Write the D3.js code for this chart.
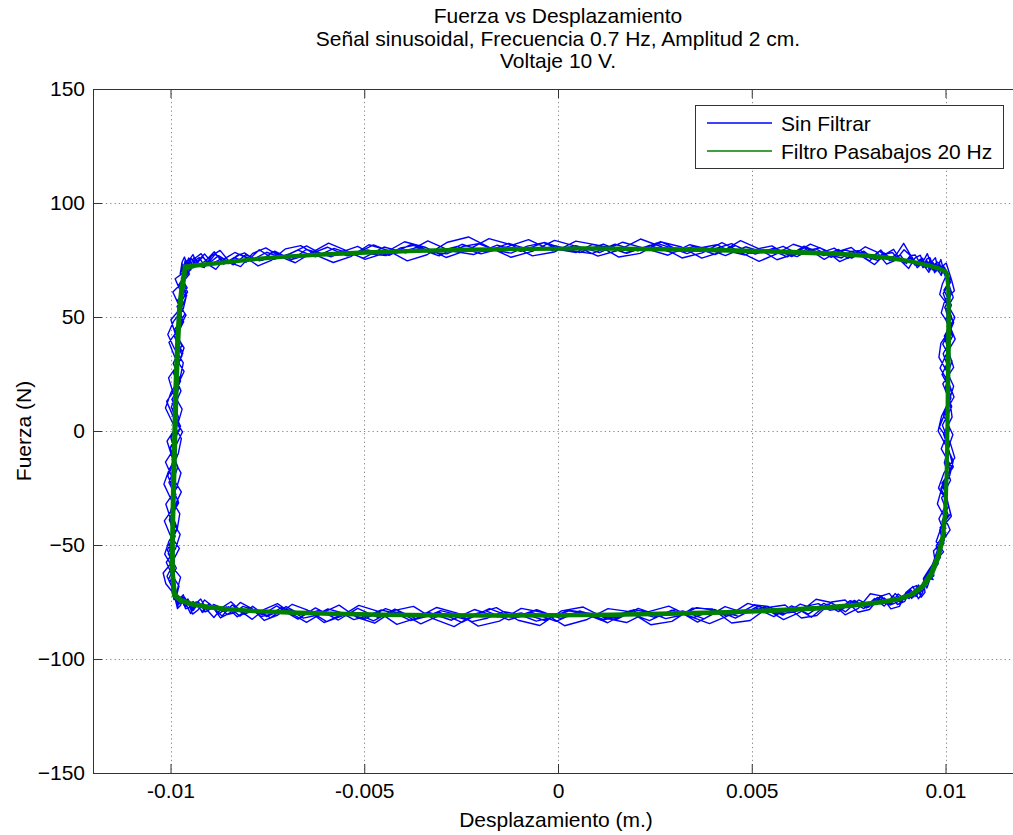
<!DOCTYPE html>
<html>
<head>
<meta charset="utf-8">
<script src="https://cdn.jsdelivr.net/npm/d3@7"></script>
<style>
  html, body { margin: 0; padding: 0; background: #ffffff; }
  svg { display: block; }
  text { font-family: "Liberation Sans", Arial, Helvetica, sans-serif; fill: #000; }
</style>
</head>
<body>
<svg id="chart" width="1013" height="835"></svg>
<script>
// ---- Títulos y etiquetas ----
const titulo = [
  "Fuerza vs Desplazamiento",
  "Señal sinusoidal, Frecuencia 0.7 Hz, Amplitud 2 cm.",
  "Voltaje 10 V."
];
const etiquetaX = "Desplazamiento (m.)";
const etiquetaY = "Fuerza (N)";
const leyenda = ["Sin Filtrar", "Filtro Pasabajos 20 Hz"];

// ---- Ejes ----
const limitesX = [-0.012, 0.012];
const limitesY = [-150, 150];
const ticksX = [-0.01, -0.005, 0, 0.005, 0.01];
const etiquetasTicksX = ["-0.01", "-0.005", "0", "0.005", "0.01"];
const ticksY = [-150, -100, -50, 0, 50, 100, 150];

// ---- Señal sin filtrar: [desplazamiento (m), fuerza (N)], seis ciclos ----
const sinFiltrarCiclo1 = [
  [-0.00968,70.5],[-0.00962,74.8],[-0.00955,71.9],[-0.00946,75.6],[-0.00934,73.1],[-0.00918,76.2],[-0.00899,73.8],[-0.00876,76.9],
  [-0.00850,74.2],[-0.00821,77.5],[-0.00788,75.1],[-0.00752,78.4],[-0.00713,76.0],[-0.00671,79.3],[-0.00626,76.4],[-0.00578,80.1],
  [-0.00528,77.2],[-0.00476,81.6],[-0.00421,77.9],[-0.00365,80.4],[-0.00307,76.8],[-0.00248,81.9],[-0.00188,78.6],[-0.00127,82.3],
  [-0.00066,79.1],[-0.00005,81.2],[0.00056,78.3],[0.00117,82.0],[0.00177,77.9],[0.00236,81.4],[0.00294,78.2],[0.00350,80.9],
  [0.00405,77.4],[0.00458,81.3],[0.00509,77.6],[0.00557,80.2],[0.00603,76.5],[0.00646,80.1],[0.00686,76.9],[0.00724,79.6],
  [0.00758,75.8],[0.00789,78.9],[0.00817,75.2],[0.00842,78.1],[0.00864,74.6],[0.00883,77.3],[0.00899,73.4],[0.00913,76.5],
  [0.00925,72.9],[0.00935,75.4],[0.00944,71.8],[0.00952,74.7],[0.00960,71.2],[0.00968,73.9],[0.00976,70.4],[0.00984,72.8],
  [0.00992,69.5],[0.00998,71.6],
  [0.01012,66.3],[0.00996,61.8],[0.01015,55.2],[0.01001,48.7],[0.01018,41.5],[0.00994,33.9],[0.01010,26.4],[0.00999,18.2],
  [0.01016,10.7],[0.00992,2.5],[0.01011,-5.8],[0.00997,-13.9],[0.01013,-21.6],[0.00990,-29.4],[0.01007,-36.8],[0.00985,-43.5],
  [0.00996,-49.2],[0.00978,-54.1],[0.00981,-58.3],[0.00962,-62.4],[0.00958,-65.9],
  [0.00952,-68.9],[0.00944,-66.2],[0.00935,-71.3],[0.00925,-68.8],[0.00913,-73.5],[0.00899,-70.6],[0.00883,-75.1],[0.00864,-72.4],
  [0.00842,-76.8],[0.00817,-73.5],[0.00789,-77.9],[0.00758,-74.8],[0.00724,-79.2],[0.00686,-75.6],[0.00646,-80.3],[0.00603,-76.7],
  [0.00557,-81.4],[0.00509,-77.5],[0.00458,-82.1],[0.00405,-78.3],[0.00350,-81.8],[0.00294,-78.6],[0.00236,-83.2],[0.00177,-79.4],
  [0.00117,-82.6],[0.00056,-78.9],[-0.00005,-83.5],[-0.00066,-79.7],[-0.00127,-82.8],[-0.00188,-78.8],[-0.00248,-83.9],[-0.00307,-79.5],
  [-0.00365,-82.4],[-0.00421,-78.1],[-0.00476,-83.3],[-0.00528,-79.4],[-0.00578,-81.9],[-0.00626,-77.6],[-0.00671,-82.5],[-0.00713,-78.3],
  [-0.00752,-81.4],[-0.00788,-76.9],[-0.00821,-81.2],[-0.00850,-77.1],[-0.00876,-80.3],[-0.00899,-75.8],[-0.00918,-79.6],[-0.00934,-74.9],
  [-0.00946,-78.2],[-0.00955,-73.7],[-0.00962,-76.8],[-0.00970,-72.6],[-0.00978,-75.1],[-0.00986,-70.8],
  [-0.01002,-66.4],[-0.00985,-60.1],[-0.01006,-53.8],[-0.00988,-46.2],[-0.01003,-38.9],[-0.00979,-31.5],[-0.00998,-23.7],[-0.00981,-15.8],
  [-0.01001,-7.4],[-0.00976,0.9],[-0.00995,9.2],[-0.00973,17.6],[-0.00992,25.3],[-0.00970,33.1],[-0.00988,40.7],[-0.00966,47.9],
  [-0.00983,54.6],[-0.00959,60.3],[-0.00975,65.2],[-0.00955,69.1]
];
const sinFiltrarCiclo2 = [
  [-0.00971,73.6],[-0.00966,70.9],[-0.00958,74.4],[-0.00950,72.0],[-0.00939,76.3],[-0.00925,72.7],[-0.00908,74.9],[-0.00887,78.6],
  [-0.00863,73.2],[-0.00836,76.1],[-0.00805,74.0],[-0.00771,79.5],[-0.00733,75.3],[-0.00692,77.8],[-0.00649,81.2],[-0.00602,76.9],
  [-0.00553,79.0],[-0.00502,75.8],[-0.00449,80.7],[-0.00393,78.1],[-0.00336,83.4],[-0.00278,79.0],[-0.00218,77.4],[-0.00157,81.5],
  [-0.00096,78.8],[-0.00035,82.7],[0.00026,79.3],[0.00087,77.8],[0.00147,81.9],[0.00206,79.0],[0.00265,83.1],[0.00322,78.5],
  [0.00378,80.6],[0.00432,76.9],[0.00484,80.8],[0.00534,78.2],[0.00581,81.0],[0.00625,77.3],[0.00666,79.9],[0.00705,76.2],
  [0.00741,79.4],[0.00774,77.8],[0.00804,74.6],[0.00830,78.9],[0.00854,75.3],[0.00874,77.6],[0.00892,82.3],[0.00907,77.9],
  [0.00920,74.1],[0.00931,72.2],[0.00941,75.8],[0.00950,71.5],[0.00958,74.3],[0.00966,70.7],[0.00974,73.5],[0.00982,69.8],
  [0.00990,72.4],[0.00997,68.9],
  [0.01009,64.1],[0.01020,58.6],[0.01001,52.9],[0.01013,45.3],[0.00993,38.1],[0.01017,30.6],[0.01000,22.9],[0.01014,14.5],
  [0.00995,6.8],[0.01019,-1.6],[0.01002,-9.7],[0.01011,-17.3],[0.00988,-25.1],[0.01008,-32.8],[0.00991,-39.7],[0.01000,-45.6],
  [0.00979,-50.8],[0.00987,-55.4],[0.00966,-59.7],[0.00970,-63.5],[0.00949,-66.8],
  [0.00941,-70.6],[0.00930,-67.5],[0.00918,-72.8],[0.00905,-70.1],[0.00889,-74.4],[0.00870,-71.3],[0.00849,-75.9],[0.00824,-73.0],
  [0.00796,-77.6],[0.00765,-74.3],[0.00731,-78.5],[0.00694,-76.0],[0.00654,-81.7],[0.00611,-77.2],[0.00566,-80.4],[0.00518,-76.9],
  [0.00467,-81.3],[0.00415,-79.0],[0.00360,-83.8],[0.00304,-78.2],[0.00247,-81.6],[0.00188,-78.7],[0.00128,-84.1],[0.00067,-79.5],
  [0.00006,-82.2],[-0.00055,-78.4],[-0.00116,-81.9],[-0.00177,-77.9],[-0.00237,-82.7],[-0.00296,-80.1],[-0.00354,-84.6],[-0.00410,-79.3],
  [-0.00465,-81.7],[-0.00517,-77.8],[-0.00567,-82.9],[-0.00615,-78.6],[-0.00660,-80.8],[-0.00702,-77.0],[-0.00742,-81.9],[-0.00778,-78.2],
  [-0.00811,-80.4],[-0.00841,-76.3],[-0.00867,-81.1],[-0.00890,-77.4],[-0.00910,-79.3],[-0.00927,-75.2],[-0.00941,-78.7],[-0.00952,-74.6],
  [-0.00961,-77.3],[-0.00969,-73.1],[-0.00977,-75.8],[-0.00985,-71.9],[-0.00991,-74.0],
  [-0.00997,-68.2],[-0.01009,-63.7],[-0.00990,-57.4],[-0.01004,-50.1],[-0.00982,-42.8],[-0.01000,-35.2],[-0.00986,-27.9],[-0.01007,-19.6],
  [-0.00983,-11.3],[-0.00999,-3.1],[-0.00978,5.4],[-0.00996,13.8],[-0.00974,21.9],[-0.00993,29.7],[-0.00971,37.5],[-0.00989,44.6],
  [-0.00963,51.3],[-0.00981,57.5],[-0.00957,62.8],[-0.00972,67.1],[-0.00950,70.4]
];
const sinFiltrarCiclo3 = [
  [-0.00961,72.9],[-0.00953,75.9],[-0.00944,72.1],[-0.00930,74.7],[-0.00912,77.6],[-0.00891,73.5],[-0.00866,75.8],[-0.00838,72.9],
  [-0.00806,77.3],[-0.00770,74.6],[-0.00731,78.9],[-0.00688,75.2],[-0.00643,77.4],[-0.00595,80.6],[-0.00544,76.8],[-0.00491,79.4],
  [-0.00436,77.0],[-0.00379,81.8],[-0.00320,78.3],[-0.00260,80.9],[-0.00199,77.7],[-0.00138,80.4],[-0.00076,83.9],[-0.00015,79.1],
  [0.00046,81.3],[0.00107,78.2],[0.00167,82.8],[0.00226,80.0],[0.00284,77.1],[0.00340,81.7],[0.00395,79.4],[0.00448,82.2],
  [0.00498,77.9],[0.00547,79.6],[0.00592,76.4],[0.00635,81.1],[0.00676,78.0],[0.00713,80.2],[0.00748,75.7],[0.00779,78.3],
  [0.00808,76.0],[0.00833,79.4],[0.00856,74.7],[0.00876,76.8],[0.00893,73.6],[0.00908,76.2],[0.00921,72.8],[0.00932,74.9],
  [0.00942,71.6],[0.00951,74.2],[0.00959,70.2],[0.00967,73.1],[0.00975,69.9],[0.00983,72.6],[0.00991,69.1],[0.00999,71.0],
  [0.01004,65.0],[0.01014,59.8],[0.00998,54.1],[0.01021,47.6],[0.01003,40.2],[0.01012,32.5],[0.00991,24.8],[0.01016,16.9],
  [0.00999,8.6],[0.01009,0.4],[0.00989,-7.8],[0.01015,-15.6],[0.00996,-23.4],[0.01005,-31.2],[0.00983,-38.5],[0.00998,-44.9],
  [0.00976,-50.3],[0.00984,-55.7],[0.00960,-60.4],[0.00964,-64.2],[0.00944,-67.5],
  [0.00936,-69.2],[0.00924,-72.6],[0.00911,-69.8],[0.00896,-73.9],[0.00878,-71.5],[0.00857,-76.3],[0.00833,-72.8],[0.00806,-76.6],
  [0.00776,-74.1],[0.00742,-79.3],[0.00706,-75.4],[0.00667,-78.1],[0.00625,-75.9],[0.00580,-80.8],[0.00533,-77.3],[0.00483,-79.9],
  [0.00431,-77.0],[0.00377,-82.4],[0.00322,-78.9],[0.00265,-81.2],[0.00207,-77.8],[0.00148,-82.9],[0.00088,-80.1],[0.00027,-78.6],
  [-0.00034,-83.1],[-0.00095,-79.8],[-0.00156,-81.5],[-0.00216,-78.3],[-0.00275,-83.0],[-0.00333,-79.6],[-0.00390,-81.2],[-0.00445,-77.9],
  [-0.00498,-82.4],[-0.00549,-79.7],[-0.00597,-83.6],[-0.00643,-78.8],[-0.00686,-80.9],[-0.00726,-76.7],[-0.00763,-80.6],[-0.00797,-77.8],
  [-0.00828,-81.5],[-0.00855,-77.1],[-0.00879,-79.4],[-0.00900,-75.6],[-0.00918,-79.1],[-0.00933,-76.2],[-0.00946,-77.9],[-0.00956,-73.8],
  [-0.00965,-76.5],[-0.00973,-72.7],[-0.00981,-74.9],[-0.00988,-71.3],
  [-0.01005,-65.1],[-0.00989,-58.8],[-0.01008,-52.3],[-0.00991,-45.6],[-0.01002,-38.2],[-0.00980,-30.7],[-0.01004,-22.6],[-0.00985,-14.3],
  [-0.00997,-6.2],[-0.00974,2.1],[-0.00998,10.4],[-0.00979,18.5],[-0.00990,26.4],[-0.00968,34.2],[-0.00991,41.8],[-0.00969,48.7],
  [-0.00980,55.1],[-0.00956,60.9],[-0.00971,65.8],[-0.00952,69.6],[-0.00965,72.3]
];
const sinFiltrarCiclo4 = [
  [-0.00975,68.9],[-0.00970,74.1],[-0.00964,76.3],[-0.00957,72.8],[-0.00948,70.6],[-0.00936,75.9],[-0.00921,77.8],[-0.00903,73.1],
  [-0.00883,70.9],[-0.00860,75.6],[-0.00834,78.3],[-0.00805,76.0],[-0.00774,72.4],[-0.00740,74.8],[-0.00703,79.9],[-0.00664,81.3],
  [-0.00623,77.0],[-0.00580,73.9],[-0.00535,76.5],[-0.00488,81.7],[-0.00439,79.2],[-0.00389,74.6],[-0.00338,77.3],[-0.00285,82.8],
  [-0.00231,85.1],[-0.00176,80.4],[-0.00121,76.2],[-0.00065,78.9],[-0.00009,83.6],[0.00047,81.0],[0.00103,76.7],[0.00158,79.4],
  [0.00213,84.2],[0.00267,80.8],[0.00320,75.9],[0.00372,78.1],[0.00423,82.6],[0.00472,78.3],[0.00519,74.4],[0.00564,77.7],
  [0.00607,81.9],[0.00648,79.6],[0.00687,75.3],[0.00723,78.8],[0.00757,80.5],[0.00788,76.1],[0.00817,73.0],[0.00843,77.4],
  [0.00866,79.7],[0.00887,74.2],[0.00905,71.3],[0.00921,75.8],[0.00935,77.1],[0.00947,72.0],[0.00957,69.6],[0.00966,74.5],
  [0.00974,76.0],[0.00982,70.3],[0.00989,68.2],[0.00996,72.9],[0.01002,73.6],
  [0.01016,66.0],[0.01023,61.5],[0.00998,57.2],[0.00989,51.8],[0.01011,46.1],[0.01025,40.3],[0.01003,34.0],[0.00986,27.6],
  [0.01008,21.2],[0.01022,14.9],[0.01000,8.3],[0.00984,1.7],[0.01012,-5.1],[0.01024,-11.8],[0.00996,-18.4],[0.00982,-25.0],
  [0.01006,-31.3],[0.01015,-37.4],[0.00987,-43.2],[0.00976,-48.5],[0.00995,-53.0],[0.00971,-57.6],[0.00954,-61.8],[0.00968,-65.2],
  [0.00950,-64.1],[0.00941,-70.9],[0.00930,-73.6],[0.00916,-68.2],[0.00900,-70.5],[0.00881,-76.9],[0.00859,-78.0],[0.00834,-72.3],
  [0.00806,-71.4],[0.00775,-77.8],[0.00741,-80.6],[0.00705,-75.2],[0.00666,-73.8],[0.00625,-79.4],[0.00582,-82.7],[0.00537,-78.0],
  [0.00490,-75.6],[0.00441,-80.9],[0.00391,-84.5],[0.00339,-81.2],[0.00286,-76.8],[0.00232,-79.3],[0.00177,-84.0],[0.00121,-82.1],
  [0.00065,-77.2],[0.00009,-78.9],[-0.00047,-85.3],[-0.00103,-83.0],[-0.00159,-77.5],[-0.00214,-80.2],[-0.00268,-85.8],[-0.00321,-82.4],
  [-0.00373,-76.9],[-0.00424,-78.8],[-0.00473,-84.3],[-0.00520,-81.7],[-0.00565,-76.4],[-0.00608,-79.8],[-0.00649,-83.9],[-0.00688,-80.0],
  [-0.00724,-75.7],[-0.00758,-78.2],[-0.00789,-82.6],[-0.00818,-79.1],[-0.00844,-74.9],[-0.00867,-77.5],[-0.00888,-81.8],[-0.00906,-78.4],
  [-0.00922,-73.7],[-0.00936,-75.9],[-0.00948,-80.1],[-0.00958,-76.6],[-0.00967,-71.8],[-0.00975,-73.4],[-0.00982,-77.2],[-0.00988,-72.1],
  [-0.01012,-67.0],[-0.01019,-62.3],[-0.00994,-57.1],[-0.00977,-51.5],[-0.01001,-45.6],[-0.01016,-39.4],[-0.00990,-33.1],[-0.00972,-26.7],
  [-0.00996,-20.2],[-0.01013,-13.6],[-0.00988,-7.0],[-0.00969,-0.4],[-0.00993,6.3],[-0.01010,13.0],[-0.00983,19.6],[-0.00965,26.1],
  [-0.00989,32.5],[-0.01004,38.9],[-0.00978,45.0],[-0.00960,50.8],[-0.00981,56.2],[-0.00994,61.0],[-0.00968,65.3],[-0.00951,68.8],
  [-0.00969,71.4]
];
const sinFiltrarCiclo5 = [
  [-0.00966,72.6],[-0.00960,69.8],[-0.00952,74.9],[-0.00942,77.4],[-0.00929,72.5],[-0.00913,71.7],[-0.00894,76.8],[-0.00872,79.2],
  [-0.00847,74.0],[-0.00819,72.1],[-0.00788,77.9],[-0.00754,80.3],[-0.00717,76.5],[-0.00678,73.8],[-0.00636,78.2],[-0.00592,82.4],
  [-0.00546,79.1],[-0.00498,75.3],[-0.00448,78.0],[-0.00396,83.0],[-0.00343,80.6],[-0.00289,76.1],[-0.00234,79.3],[-0.00178,84.4],
  [-0.00122,81.7],[-0.00066,76.8],[-0.00010,78.5],[0.00046,83.3],[0.00102,81.5],[0.00157,76.3],[0.00212,77.9],[0.00266,82.9],
  [0.00319,80.7],[0.00371,75.8],[0.00422,78.6],[0.00471,83.5],[0.00519,79.9],[0.00565,75.1],[0.00609,77.6],[0.00651,82.0],
  [0.00690,79.3],[0.00727,74.3],[0.00761,76.9],[0.00793,80.8],[0.00822,78.6],[0.00848,73.2],[0.00872,75.0],[0.00893,79.5],
  [0.00911,76.7],[0.00927,71.6],[0.00941,73.9],[0.00953,77.8],[0.00963,73.4],[0.00972,69.4],[0.00980,72.0],[0.00988,75.2],
  [0.00995,70.5],[0.01001,67.9],
  [0.00992,64.5],[0.00985,59.9],[0.01007,55.0],[0.01024,49.8],[0.01010,44.2],[0.00988,38.4],[0.00983,32.3],[0.01004,26.0],
  [0.01021,19.6],[0.01009,13.1],[0.00990,6.6],[0.00981,0.0],[0.01002,-6.6],[0.01020,-13.1],[0.01011,-19.5],[0.00989,-25.8],
  [0.00979,-32.0],[0.00998,-37.9],[0.01012,-43.4],[0.00992,-48.3],[0.00969,-52.6],[0.00973,-56.9],[0.00957,-60.9],[0.00943,-64.6],
  [0.00947,-70.8],[0.00937,-72.9],[0.00925,-67.8],[0.00911,-68.9],[0.00895,-74.7],[0.00876,-76.1],[0.00855,-71.2],[0.00831,-72.6],
  [0.00804,-78.3],[0.00774,-79.5],[0.00741,-74.1],[0.00706,-75.0],[0.00668,-80.9],[0.00628,-82.0],[0.00586,-76.3],[0.00542,-77.4],
  [0.00496,-83.1],[0.00448,-84.2],[0.00398,-78.0],[0.00347,-77.7],[0.00294,-83.5],[0.00240,-85.0],[0.00185,-79.2],[0.00129,-77.9],
  [0.00073,-82.8],[0.00017,-85.4],[-0.00039,-79.6],[-0.00095,-77.8],[-0.00151,-83.4],[-0.00206,-85.6],[-0.00260,-79.9],[-0.00313,-77.4],
  [-0.00365,-82.1],[-0.00416,-84.8],[-0.00466,-79.0],[-0.00514,-76.5],[-0.00560,-81.3],[-0.00604,-84.0],[-0.00646,-78.6],[-0.00686,-76.0],
  [-0.00723,-80.7],[-0.00758,-83.1],[-0.00790,-77.9],[-0.00820,-75.2],[-0.00847,-79.8],[-0.00871,-82.0],[-0.00893,-76.7],[-0.00912,-74.1],
  [-0.00929,-78.5],[-0.00943,-80.3],[-0.00955,-75.2],[-0.00965,-72.6],[-0.00974,-76.4],[-0.00982,-77.9],[-0.00989,-72.8],
  [-0.00981,-68.6],[-0.00974,-64.1],[-0.00997,-59.2],[-0.01015,-54.0],[-0.01004,-48.3],[-0.00982,-42.4],[-0.00976,-36.2],[-0.00999,-29.8],
  [-0.01017,-23.3],[-0.01003,-16.7],[-0.00980,-10.0],[-0.00972,-3.3],[-0.00994,3.4],[-0.01013,10.1],[-0.00999,16.8],[-0.00975,23.4],
  [-0.00967,29.9],[-0.00990,36.2],[-0.01007,42.3],[-0.00992,48.1],[-0.00967,53.6],[-0.00960,58.6],[-0.00979,63.0],[-0.00988,66.8],
  [-0.00962,70.0],[-0.00954,72.7]
];
const sinFiltrarCiclo6 = [
  [-0.00972,72.4],[-0.00967,70.1],[-0.00961,75.0],[-0.00954,73.6],[-0.00946,71.2],[-0.00937,74.8],[-0.00926,76.1],[-0.00914,72.9],[-0.00900,74.3],[-0.00885,77.5],
  [-0.00868,75.2],[-0.00850,73.4],[-0.00830,76.8],[-0.00809,78.1],[-0.00786,75.5],[-0.00762,74.9],[-0.00736,78.7],[-0.00709,77.0],[-0.00680,75.8],[-0.00650,79.6],
  [-0.00619,78.2],[-0.00586,76.4],[-0.00552,78.9],[-0.00517,81.0],[-0.00481,77.6],[-0.00444,76.9],[-0.00406,80.3],[-0.00367,81.5],[-0.00327,78.4],[-0.00287,77.7],
  [-0.00246,80.9],[-0.00205,82.2],[-0.00163,79.3],[-0.00121,78.0],[-0.00079,81.1],[-0.00037,82.6],[0.00005,79.5],[0.00047,78.3],[0.00089,81.8],[0.00131,80.6],
  [0.00172,78.1],[0.00213,79.9],[0.00254,82.4],[0.00294,80.2],[0.00333,77.8],[0.00372,80.5],[0.00410,81.7],[0.00447,78.6],[0.00483,77.2],[0.00518,80.0],
  [0.00552,81.2],[0.00585,77.9],[0.00617,76.5],[0.00648,79.4],[0.00677,80.3],[0.00705,77.1],[0.00732,75.9],[0.00757,78.8],[0.00781,79.2],[0.00804,76.0],
  [0.00825,74.8],[0.00845,77.6],[0.00863,78.3],[0.00880,75.1],[0.00895,73.9],[0.00909,76.9],[0.00922,77.2],[0.00933,74.0],[0.00943,72.6],[0.00952,75.5],
  [0.00960,76.0],[0.00967,72.8],[0.00973,71.4],[0.00979,74.1],[0.00985,73.3],[0.00990,70.6],[0.00995,72.2],[0.01000,70.9],
  [0.01013,65.2],[0.00994,60.4],[0.01006,54.7],[0.01019,48.3],[0.00997,41.6],[0.01008,34.8],[0.01021,27.9],[0.00993,20.7],
  [0.01011,13.4],[0.01017,6.1],[0.00995,-1.3],[0.01009,-8.6],[0.01020,-15.8],[0.00991,-22.9],[0.01004,-29.8],[0.01013,-36.3],
  [0.00986,-42.4],[0.00997,-47.9],[0.00978,-52.8],[0.00969,-57.3],[0.00959,-61.4],[0.00946,-65.0],
  [0.00938,-68.1],[0.00929,-71.4],[0.00918,-70.2],[0.00906,-73.5],[0.00892,-72.0],[0.00877,-74.9],[0.00860,-76.1],[0.00842,-73.2],[0.00822,-74.6],[0.00801,-77.3],
  [0.00778,-75.8],[0.00754,-74.4],[0.00728,-77.9],[0.00701,-78.6],[0.00672,-75.7],[0.00642,-76.8],[0.00610,-79.4],[0.00577,-80.1],[0.00543,-77.0],[0.00508,-76.3],
  [0.00472,-79.6],[0.00435,-81.2],[0.00397,-78.4],[0.00358,-77.5],[0.00318,-80.8],[0.00278,-82.3],[0.00237,-79.6],[0.00196,-78.4],[0.00154,-81.5],[0.00112,-83.0],
  [0.00070,-80.2],[0.00028,-78.9],[-0.00014,-81.7],[-0.00056,-83.4],[-0.00098,-80.6],[-0.00140,-79.2],[-0.00181,-82.0],[-0.00222,-83.6],[-0.00263,-80.4],[-0.00303,-78.8],
  [-0.00342,-81.5],[-0.00381,-83.1],[-0.00419,-80.0],[-0.00456,-78.5],[-0.00492,-81.2],[-0.00527,-82.7],[-0.00561,-79.6],[-0.00594,-78.0],[-0.00626,-80.9],[-0.00657,-82.1],
  [-0.00686,-79.0],[-0.00714,-77.4],[-0.00741,-80.3],[-0.00766,-81.4],[-0.00790,-78.2],[-0.00813,-76.9],[-0.00834,-79.7],[-0.00854,-80.5],[-0.00872,-77.3],[-0.00889,-76.1],
  [-0.00904,-78.9],[-0.00918,-79.4],[-0.00931,-76.2],[-0.00942,-74.8],[-0.00952,-77.5],[-0.00961,-78.0],[-0.00969,-74.6],[-0.00976,-73.1],[-0.00982,-75.7],[-0.00987,-73.9],
  [-0.00978,-68.0],[-0.00996,-63.1],[-0.01011,-57.6],[-0.00987,-51.6],[-0.00975,-45.3],[-0.00999,-38.8],[-0.01012,-32.1],[-0.00985,-25.3],
  [-0.00973,-18.4],[-0.00996,-11.4],[-0.01009,-4.4],[-0.00982,2.6],[-0.00970,9.6],[-0.00993,16.5],[-0.01005,23.3],[-0.00978,30.0],
  [-0.00965,36.5],[-0.00988,42.8],[-0.00999,48.8],[-0.00971,54.4],[-0.00958,59.5],[-0.00979,64.1],[-0.00960,68.1],[-0.00968,71.5]
];

// ---- Señal con filtro pasabajos 20 Hz: [desplazamiento (m), fuerza (N)], tres ciclos ----
const filtradoCiclo1 = [
  [-0.00960,71.8],[-0.00940,72.8],[-0.00905,73.4],[-0.00860,74.2],[-0.00800,75.3],[-0.00720,76.5],[-0.00620,77.6],[-0.00500,78.5],
  [-0.00370,79.2],[-0.00230,79.7],[-0.00080,80.1],[0.00070,80.1],[0.00220,79.9],[0.00360,79.5],[0.00490,79.0],[0.00610,78.4],
  [0.00710,77.7],[0.00790,76.8],[0.00850,75.9],[0.00895,74.8],[0.00930,73.6],[0.00958,72.4],[0.00985,71.2],[0.01003,69.5],
  [0.01008,62.0],[0.01007,45.0],[0.01006,25.0],[0.01005,5.0],[0.01003,-15.0],[0.01000,-32.0],[0.00993,-45.0],[0.00980,-54.5],
  [0.00962,-62.0],[0.00940,-67.8],[0.00915,-71.2],
  [0.00880,-73.4],[0.00830,-74.9],[0.00760,-76.2],[0.00670,-77.4],[0.00560,-78.4],[0.00430,-79.2],[0.00290,-79.8],[0.00140,-80.3],
  [-0.00010,-80.6],[-0.00160,-80.7],[-0.00310,-80.6],[-0.00450,-80.3],[-0.00580,-79.9],[-0.00690,-79.4],[-0.00780,-78.8],[-0.00850,-77.9],
  [-0.00905,-76.8],[-0.00945,-75.6],[-0.00972,-74.0],[-0.00988,-71.5],
  [-0.00993,-62.0],[-0.00993,-45.0],[-0.00990,-25.0],[-0.00987,-5.0],[-0.00984,15.0],[-0.00980,35.0],[-0.00976,50.0],[-0.00970,60.0],
  [-0.00964,67.0],[-0.00960,71.8]
];
const filtradoCiclo2 = [
  [-0.00965,72.3],[-0.00945,72.6],[-0.00910,73.2],[-0.00865,74.0],[-0.00805,75.1],[-0.00725,76.2],[-0.00625,77.4],[-0.00505,78.3],
  [-0.00375,79.0],[-0.00235,79.5],[-0.00085,79.9],[0.00065,80.3],[0.00215,80.1],[0.00355,79.8],[0.00485,79.3],[0.00605,78.7],
  [0.00705,78.1],[0.00785,77.3],[0.00845,76.3],[0.00890,75.2],[0.00925,74.0],[0.00955,72.8],[0.00982,71.6],[0.01001,70.1],
  [0.01009,60.0],[0.01010,42.0],[0.01008,22.0],[0.01006,2.0],[0.01004,-18.0],[0.01001,-34.0],[0.00995,-46.5],[0.00983,-55.5],
  [0.00966,-62.8],[0.00944,-68.3],[0.00918,-71.6],
  [0.00885,-73.8],[0.00835,-75.4],[0.00765,-76.7],[0.00675,-77.9],[0.00565,-78.9],[0.00435,-79.6],[0.00295,-80.2],[0.00145,-80.6],
  [-0.00005,-80.9],[-0.00155,-81.0],[-0.00305,-80.9],[-0.00445,-80.6],[-0.00575,-80.2],[-0.00685,-79.7],[-0.00775,-79.1],[-0.00845,-78.3],
  [-0.00900,-77.2],[-0.00942,-76.0],[-0.00970,-74.4],[-0.00990,-71.9],
  [-0.00996,-60.0],[-0.00995,-42.0],[-0.00992,-22.0],[-0.00989,-2.0],[-0.00986,18.0],[-0.00982,37.0],[-0.00977,52.0],[-0.00972,61.5],
  [-0.00966,68.0],[-0.00962,72.0]
];
const filtradoCiclo3 = [
  [-0.00958,71.2],[-0.00936,72.3],[-0.00900,73.0],[-0.00855,73.9],[-0.00795,75.0],[-0.00715,76.2],[-0.00615,77.2],[-0.00495,78.1],
  [-0.00365,78.8],[-0.00225,79.3],[-0.00075,79.7],[0.00075,79.9],[0.00225,79.6],[0.00365,79.2],[0.00495,78.7],[0.00615,78.1],
  [0.00715,77.5],[0.00795,76.6],[0.00855,75.6],[0.00900,74.5],[0.00935,73.3],[0.00962,72.1],[0.00988,70.8],[0.01005,69.0],
  [0.01007,58.0],[0.01006,40.0],[0.01005,20.0],[0.01004,0.0],[0.01002,-20.0],[0.00998,-36.0],[0.00991,-47.5],[0.00978,-56.0],
  [0.00960,-63.0],[0.00937,-68.5],[0.00912,-71.8],
  [0.00875,-74.0],[0.00825,-75.6],[0.00755,-76.9],[0.00665,-78.1],[0.00555,-79.1],[0.00425,-79.8],[0.00285,-80.4],[0.00135,-80.8],
  [-0.00015,-81.1],[-0.00165,-81.2],[-0.00315,-81.1],[-0.00455,-80.8],[-0.00585,-80.4],[-0.00695,-79.9],[-0.00785,-79.2],[-0.00855,-78.4],
  [-0.00908,-77.4],[-0.00948,-76.1],[-0.00975,-74.6],[-0.00992,-72.2],
  [-0.00998,-58.0],[-0.00996,-40.0],[-0.00994,-20.0],[-0.00991,0.0],[-0.00988,20.0],[-0.00984,38.0],[-0.00979,53.0],[-0.00973,62.5],
  [-0.00967,68.8],[-0.00963,72.5]
];

// ---- Dibujo ----
const colorSinFiltrar = "#0000ff";
const colorFiltrado = "#008000";

const svg = d3.select("#chart");
const area = { left: 93, right: 1023, top: 89, bottom: 773 };
const fontSize = 21;

const x = d3.scaleLinear().domain(limitesX).range([area.left, area.right]);
const y = d3.scaleLinear().domain(limitesY).range([area.bottom, area.top]);

svg.append("rect").attr("x", 0).attr("y", 0).attr("width", 1013).attr("height", 835).attr("fill", "#fff");

// rejilla punteada
const rejilla = svg.append("g").attr("stroke", "#8a8a8a").attr("stroke-width", 1).attr("stroke-dasharray", "1.3,3");
rejilla.selectAll("line.gx").data(ticksX).join("line")
  .attr("x1", d => Math.round(x(d)) + 0.5).attr("x2", d => Math.round(x(d)) + 0.5)
  .attr("y1", area.top).attr("y2", area.bottom);
rejilla.selectAll("line.gy").data(ticksY.filter(d => d > limitesY[0] && d < limitesY[1])).join("line")
  .attr("y1", d => Math.round(y(d)) + 0.5).attr("y2", d => Math.round(y(d)) + 0.5)
  .attr("x1", area.left).attr("x2", area.right);

// curvas
const linea = d3.line().x(d => x(d[0])).y(d => y(d[1]));
const ciclosSinFiltrar = [sinFiltrarCiclo1, sinFiltrarCiclo2, sinFiltrarCiclo3, sinFiltrarCiclo4, sinFiltrarCiclo5, sinFiltrarCiclo6];
const ciclosFiltrado = [filtradoCiclo1, filtradoCiclo2, filtradoCiclo3];
const sinFiltrar = [].concat(...ciclosSinFiltrar);
const filtrado = [].concat(...ciclosFiltrado);

svg.append("path").datum(sinFiltrar)
  .attr("d", linea).attr("fill", "none")
  .attr("stroke", colorSinFiltrar).attr("stroke-width", 1.4).attr("stroke-linejoin", "round");
svg.append("path").datum(filtrado)
  .attr("d", linea).attr("fill", "none")
  .attr("stroke", colorFiltrado).attr("stroke-width", 3.4).attr("stroke-linejoin", "round");

// ejes con marcas hacia adentro
const ejeInf = svg.append("g").attr("transform", `translate(0,${area.bottom})`)
  .call(d3.axisBottom(x).tickValues(ticksX).tickFormat((d, i) => etiquetasTicksX[i]).tickSize(-9).tickPadding(10));
const ejeSup = svg.append("g").attr("transform", `translate(0,${area.top})`)
  .call(d3.axisTop(x).tickValues(ticksX).tickFormat("").tickSize(-9));
const ejeIzq = svg.append("g").attr("transform", `translate(${area.left},0)`)
  .call(d3.axisLeft(y).tickValues(ticksY).tickFormat(d3.format("d")).tickSize(-9).tickPadding(8));
const ejeDer = svg.append("g").attr("transform", `translate(${area.right},0)`)
  .call(d3.axisRight(y).tickValues(ticksY).tickFormat("").tickSize(-9));

[ejeInf, ejeSup, ejeIzq, ejeDer].forEach(g => {
  g.select(".domain").remove();
  g.selectAll(".tick line").attr("stroke", "#333").attr("stroke-width", 1);
  g.selectAll(".tick text").attr("font-size", fontSize)
    .attr("font-family", "'Liberation Sans', Arial, sans-serif").attr("fill", "#000");
});

// marco
svg.append("rect")
  .attr("x", area.left + 0.5).attr("y", area.top + 0.5)
  .attr("width", area.right - area.left).attr("height", area.bottom - area.top)
  .attr("fill", "none").attr("stroke", "#333").attr("stroke-width", 1);

// títulos
const cx = (area.left + area.right) / 2;
svg.append("g").selectAll("text").data(titulo).join("text")
  .attr("x", cx).attr("y", (d, i) => 23 + i * 22.5)
  .attr("text-anchor", "middle").attr("font-size", fontSize).text(d => d);

svg.append("text").attr("x", cx - 2).attr("y", 827)
  .attr("text-anchor", "middle").attr("font-size", fontSize).text(etiquetaX);

svg.append("text").attr("transform", `translate(31,${(area.top + area.bottom) / 2}) rotate(-90)`)
  .attr("text-anchor", "middle").attr("font-size", fontSize).text(etiquetaY);

// leyenda
const ley = svg.append("g");
ley.append("rect").attr("x", 695.5).attr("y", 105.5).attr("width", 308).attr("height", 63)
  .attr("fill", "#fff").attr("stroke", "#333").attr("stroke-width", 1);
const colores = [colorSinFiltrar, colorFiltrado];
leyenda.forEach((etiqueta, i) => {
  const yFila = 123 + i * 28;
  ley.append("line").attr("x1", 707).attr("x2", 772).attr("y1", yFila).attr("y2", yFila)
    .attr("stroke", colores[i]).attr("stroke-width", 1.5);
  ley.append("text").attr("x", 781).attr("y", yFila).attr("dy", "0.36em")
    .attr("font-size", fontSize).text(etiqueta);
});
</script>
</body>
</html>
